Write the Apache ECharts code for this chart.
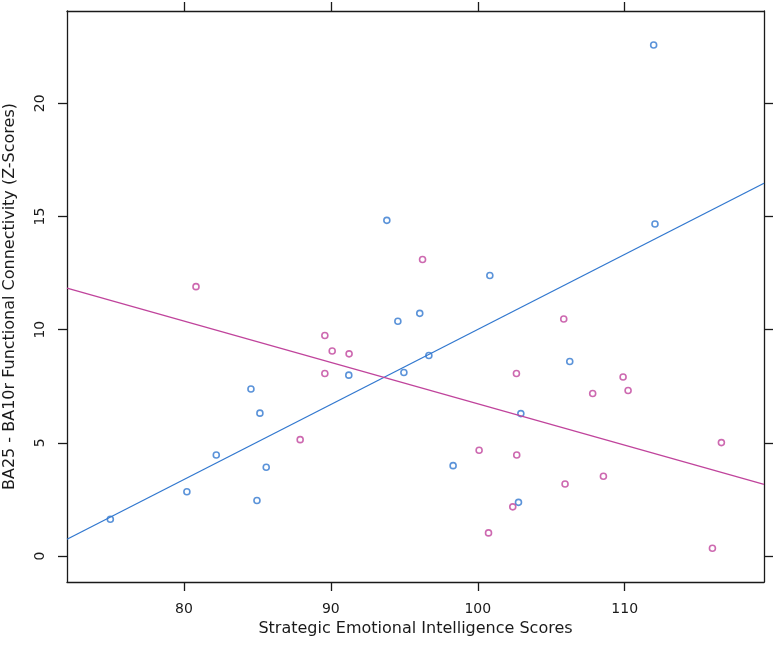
<!DOCTYPE html>
<html>
<head>
<meta charset="utf-8">
<script src="https://cdn.jsdelivr.net/npm/echarts@6/dist/echarts.min.js"></script>
<style>
html,body{margin:0;padding:0;background:#fff;}
#chart{width:776px;height:650px;}
</style>
</head>
<body>
<div id="chart"></div>
<script>
// Group 1 (blue) observations: [score, z]
const blueX = [74.99, 80.2, 82.2, 84.56, 85.17, 85.6, 84.97, 91.22, 93.81, 94.56, 94.97, 96.05, 96.67, 100.82, 98.32, 102.93, 102.77, 106.26, 111.97, 112.06];
const blueY = [1.62, 2.84, 4.46, 7.38, 6.31, 3.92, 2.45, 7.99, 14.83, 10.37, 8.11, 10.72, 8.86, 12.39, 3.99, 6.29, 2.37, 8.59, 22.58, 14.67];
// Group 2 (magenta) observations
const magX = [80.82, 87.91, 89.59, 90.09, 91.24, 89.59, 96.24, 100.09, 100.73, 102.38, 102.65, 102.63, 105.85, 105.94, 107.82, 108.55, 109.89, 110.23, 115.97, 116.58];
const magY = [11.90, 5.14, 9.74, 9.06, 8.93, 8.06, 13.10, 4.67, 1.02, 2.17, 4.46, 8.06, 10.47, 3.18, 7.18, 3.52, 7.91, 7.31, 0.34, 5.01];
// Fitted regression lines (endpoints at panel edges)
const blueFitX = [72.04, 119.48];
const blueFitY = [0.74, 16.47];
const magFitX = [72.04, 119.48];
const magFitY = [11.83, 3.16];
// Axis ticks
const xTicks = [80, 90, 100, 110];
const yTicks = [0, 5, 10, 15, 20];
const xRange = [72.04, 119.48];
const yRange = [-1.15, 24.08];

const zip = (a, b) => a.map((v, i) => [v, b[i]]);
const BLUE = '#3278cf';
const MAG = '#c0449c';
const FONT = 'DejaVu Sans';
const axisColor = '#1a1a1a';

function xAx(pos, labels) {
  return {
    type: 'value', position: pos, min: xRange[0], max: xRange[1],
    splitLine: {show: false},
    axisLine: {show: true, onZero: false, lineStyle: {color: axisColor, width: 1.3}},
    axisTick: {show: true, inside: false, length: 9, customValues: xTicks, lineStyle: {color: axisColor, width: 1.3}},
    axisLabel: {show: labels, customValues: xTicks, margin: 20, color: '#1a1a1a', fontFamily: FONT, fontSize: 14},
    name: labels ? 'Strategic Emotional Intelligence Scores' : '',
    nameLocation: 'middle', nameGap: 36,
    nameTextStyle: {color: '#1a1a1a', fontFamily: FONT, fontSize: 16}
  };
}
function yAx(pos, labels) {
  return {
    type: 'value', position: pos, min: yRange[0], max: yRange[1],
    splitLine: {show: false},
    axisLine: {show: true, onZero: false, lineStyle: {color: axisColor, width: 1.3}},
    axisTick: {show: true, inside: false, length: 9, customValues: yTicks, lineStyle: {color: axisColor, width: 1.3}},
    axisLabel: {show: labels, customValues: yTicks, rotate: 90, margin: 20, color: '#1a1a1a', fontFamily: FONT, fontSize: 14},
    name: labels ? 'BA25 - BA10r Functional Connectivity (Z-Scores)' : '',
    nameLocation: 'middle', nameGap: 49,
    nameTextStyle: {color: '#1a1a1a', fontFamily: FONT, fontSize: 16}
  };
}

const chart = echarts.init(document.getElementById('chart'), null, {renderer: 'canvas'});
chart.setOption({
  animation: false,
  backgroundColor: '#fff',
  grid: {left: 67, right: 12, top: 11, bottom: 68, containLabel: false, outerBoundsMode: 'none'},
  xAxis: [xAx('bottom', true), xAx('top', false)],
  yAxis: [yAx('left', true), yAx('right', false)],
  series: [
    {type: 'line', data: zip(blueFitX, blueFitY), symbol: 'none', lineStyle: {color: BLUE, width: 1.3}, clip: true},
    {type: 'line', data: zip(magFitX, magFitY), symbol: 'none', lineStyle: {color: MAG, width: 1.3}, clip: true},
    {type: 'scatter', data: zip(blueX, blueY), symbol: 'circle', symbolSize: 6,
      itemStyle: {color: 'rgba(0,0,0,0)', borderColor: BLUE, borderWidth: 1.6}},
    {type: 'scatter', data: zip(magX, magY), symbol: 'circle', symbolSize: 6,
      itemStyle: {color: 'rgba(0,0,0,0)', borderColor: MAG, borderWidth: 1.6}}
  ]
});
</script>
</body>
</html>
